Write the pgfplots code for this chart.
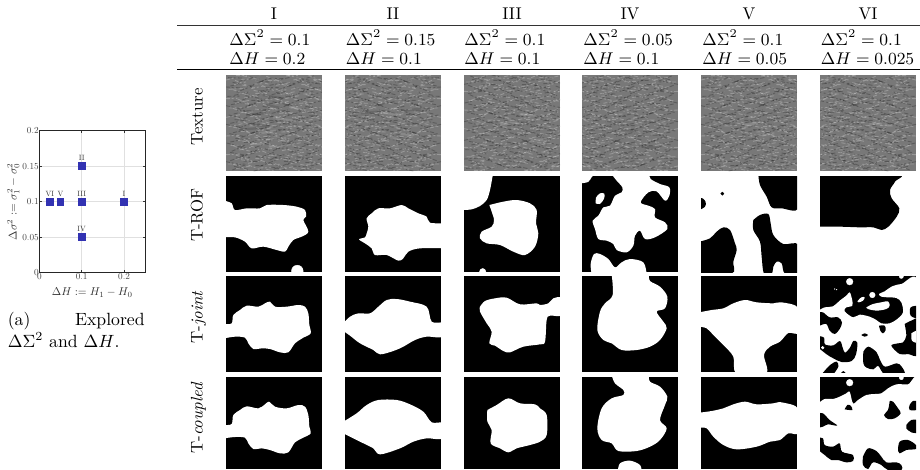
\documentclass[border=0pt]{standalone}
\usepackage{fix-cm}
\usepackage{pgfplots}
\usepackage{pgfplotstable}
\pgfplotsset{compat=1.18}
\definecolor{markblue}{RGB}{50,50,178}
\definecolor{texgray}{gray}{0.47}
\def\pxu{0.56522pt}

\pgfplotstableread[row sep=\\]{
x y u v\\
6 8 42 -4\\ 70 5 30 3\\ 130 10 48 -5\\ 210 7 40 4\\
20 22 28 3\\ 88 19 50 -4\\ 170 24 36 -3\\ 240 20 44 2\\
0 36 50 -3\\ 66 33 26 4\\ 118 38 40 -5\\ 196 35 52 3\\ 262 38 26 -2\\
30 50 44 4\\ 96 48 34 -3\\ 150 52 30 5\\ 220 49 46 -4\\
4 64 36 -5\\ 58 62 48 3\\ 128 66 38 -3\\ 184 63 30 4\\ 240 66 40 -3\\
22 78 30 3\\ 76 76 44 -4\\ 140 80 50 4\\ 214 77 34 -3\\
0 92 42 4\\ 60 90 32 -3\\ 110 94 46 3\\ 176 91 40 -5\\ 238 94 44 3\\
34 106 48 -4\\ 100 104 30 4\\ 150 108 44 -3\\ 216 105 50 4\\
8 120 34 3\\ 62 118 46 -5\\ 128 122 36 3\\ 186 119 42 -3\\ 250 122 30 -2\\
26 134 42 -3\\ 86 132 28 5\\ 130 136 50 -4\\ 200 133 44 3\\
0 148 46 4\\ 64 146 38 -3\\ 120 150 30 3\\ 170 147 48 -5\\ 236 150 40 3\\
40 162 30 -4\\ 90 160 46 3\\ 156 164 36 -4\\ 212 161 50 3\\
10 176 44 3\\ 72 174 34 -3\\ 124 178 48 4\\ 190 175 30 -4\\ 240 178 44 2\\
28 190 48 -4\\ 96 188 30 5\\ 144 192 42 -3\\ 206 189 46 3\\
2 204 34 4\\ 54 202 44 -3\\ 116 206 34 3\\ 168 203 48 -4\\ 234 206 42 2\\
36 218 30 -3\\ 84 216 48 4\\ 150 220 36 -5\\ 204 217 50 3\\
12 232 46 3\\ 76 230 30 -4\\ 124 234 46 3\\ 188 231 34 -3\\ 242 234 42 3\\
30 246 42 -4\\ 90 244 34 3\\ 142 248 50 -3\\ 212 245 44 4\\
0 260 36 3\\ 52 258 48 -4\\ 118 262 38 4\\ 174 259 46 -3\\ 238 262 44 -2\\
24 274 44 4\\ 88 272 30 -4\\ 136 276 44 3\\ 200 273 50 -3\\
}\darkgrain

\pgfplotstableread[row sep=\\]{
x y u v\\
30 2 32 3\\ 100 0 40 -3\\ 180 3 36 3\\ 250 1 34 -2\\
0 15 30 -3\\ 46 13 34 3\\ 126 17 34 4\\ 202 15 30 -3\\ 262 14 26 2\\
24 29 36 -4\\ 84 27 28 3\\ 150 31 42 -3\\ 226 29 36 3\\
8 43 48 3\\ 76 41 36 -4\\ 158 45 30 3\\ 196 43 22 -3\\ 250 44 34 2\\
40 57 30 -3\\ 88 55 34 4\\ 164 59 46 -4\\ 232 57 34 3\\
0 71 34 3\\ 54 69 40 -3\\ 116 73 28 3\\ 178 71 40 -4\\ 246 72 36 -2\\
28 85 42 -4\\ 92 83 30 3\\ 146 87 44 -3\\ 220 85 46 3\\
10 99 38 4\\ 64 97 30 -4\\ 128 101 40 3\\ 194 99 34 -4\\ 250 100 34 2\\
40 113 44 3\\ 110 111 32 -3\\ 160 115 46 4\\ 228 113 34 -3\\
0 127 44 -3\\ 70 125 34 4\\ 142 129 36 -3\\ 198 127 40 3\\ 256 128 30 -2\\
34 141 30 3\\ 86 139 46 -4\\ 154 143 34 3\\ 218 141 44 -3\\
8 155 42 -4\\ 70 153 38 3\\ 130 157 30 -3\\ 186 155 44 4\\ 248 156 36 2\\
44 169 30 4\\ 92 167 44 -3\\ 166 171 40 3\\ 230 169 34 -4\\
0 183 46 3\\ 66 181 26 -4\\ 112 185 46 3\\ 184 183 30 -3\\ 232 184 48 3\\
36 197 36 -3\\ 90 195 44 3\\ 156 199 34 -4\\ 216 197 40 3\\
14 211 34 4\\ 72 209 36 -3\\ 128 213 32 4\\ 182 211 46 -3\\ 248 212 36 2\\
40 225 34 -4\\ 96 223 44 3\\ 168 227 30 -3\\ 218 225 48 3\\
0 239 42 3\\ 62 237 40 -3\\ 128 241 46 4\\ 198 239 36 -3\\ 252 240 32 2\\
28 253 38 -3\\ 88 251 34 4\\ 146 255 40 -3\\ 216 253 44 3\\
6 267 34 4\\ 66 265 40 -3\\ 126 269 36 3\\ 190 267 32 -4\\ 242 268 40 2\\
30 281 46 -3\\ 100 279 34 3\\ 160 283 46 -3\\ 226 281 44 3\\
}\lightgrain

\pgfplotstableread{
x y lab
0.2 0.1 I
0.1 0.15 II
0.1 0.1 III
0.1 0.05 IV
0.05 0.1 V
0.025 0.1 VI
}\explored

\pgfplotsset{
 panel/.style={scale only axis,width=54.26pt,height=54.26pt,
  xmin=0,xmax=288,ymin=0,ymax=288,y dir=reverse,
  ticks=none,axis line style={draw=none},clip=true,
  axis background/.style={fill=black}},
 last/.style={height=52pt,ymax=276},
 tex/.style={axis background/.style={fill=texgray}},
 fine/.style={no marks,opacity=0.24,line width=0.5pt,dash pattern=on 2.3pt off 0.9pt on 1.1pt off 1.4pt},
}
\newenvironment{panel}[3][]{\begin{axis}[panel,#1,at={(#2*\pxu,-#3*\pxu)},anchor=north west]}{\end{axis}}
\newcommand\wb[1]{\addplot[fill=white,draw=none,smooth,tension=0.55] coordinates {#1};}
\newcommand\bb[1]{\addplot[fill=black,draw=none,smooth,tension=0.55] coordinates {#1};}
\newcommand\wdot[3]{\addplot[only marks,mark=*,mark size=#3,mark options={fill=white,draw=white,line width=0.2pt}] coordinates {(#1,#2)};}
\newcommand\bdot[3]{\addplot[only marks,mark=*,mark size=#3,mark options={fill=black,draw=black,line width=0.2pt}] coordinates {(#1,#2)};}
\newcommand\allwhite{\addplot[fill=white,draw=none] coordinates {(-5,-5)(293,-5)(293,293)(-5,293)};}
\newcommand\grain{%
 \addplot[quiver={u=\thisrow{u},v=\thisrow{v}+0.12*\thisrow{u}},fine,black] table[x=x,y=y] {\darkgrain};
 \addplot[quiver={u=\thisrow{u},v=\thisrow{v}-0.3*\thisrow{u}},fine,black] table[x expr=\thisrow{x}+13,y expr=293-\thisrow{y}] {\darkgrain};
 \addplot[quiver={u=\thisrow{u},v=\thisrow{v}-0.12*\thisrow{u}},fine,white] table[x=x,y=y] {\lightgrain};
 \addplot[quiver={u=\thisrow{u},v=\thisrow{v}+0.3*\thisrow{u}},fine,white] table[x expr=\thisrow{x}+21,y expr=283-\thisrow{y}] {\lightgrain};
}
\newcommand\glow[1]{\addplot[quiver={u=\thisrow{u},v=\thisrow{v}},no marks,white,opacity=0.12,line width=1.3pt] table[row sep=\\] {x y u v\\#1};}
\newcommand\dusk[1]{\addplot[quiver={u=\thisrow{u},v=\thisrow{v}},no marks,black,opacity=0.12,line width=1.3pt] table[row sep=\\] {x y u v\\#1};}

\begin{document}
\begin{tikzpicture}
\path[use as bounding box] (0,0) rectangle (920*\pxu,-469*\pxu);

% explored parameters
\begin{axis}[scale only axis,width=59.9pt,height=80.3pt,
 at={(39.3*\pxu,-272.7*\pxu)},anchor=south west,
 xmin=0,xmax=0.25,ymin=0,ymax=0.2,
 xtick={0,0.1,0.2},ytick={0,0.05,0.1,0.15,0.2},
 yticklabel style={/pgf/number format/fixed,/pgf/number format/precision=3},
 xticklabel style={/pgf/number format/fixed},
 ticklabel style={scale=0.52,text=black!75},
 tick align=inside,major tick length=1.5pt,tick style={black!80,line width=0.3pt},
 grid=major,grid style={black!12,line width=0.6pt},
 axis line style={black!85,line width=0.6pt},
 xticklabel shift=-1.5pt,yticklabel shift=-1.5pt,
 xlabel={$\Delta H := H_1 - H_0$},
 ylabel={$\Delta\sigma^2 := \sigma_1^2 - \sigma_0^2$},
 label style={scale=0.64,text=black!80},
 xlabel style={at={(axis description cs:0.5,-0.14)},anchor=center},
 ylabel style={at={(axis description cs:-0.245,0.5)},anchor=center},
 clip=false]
\addplot[only marks,mark=square*,mark size=1.9pt,mark options={draw=markblue,fill=markblue,line width=0pt},
 point meta=explicit symbolic,nodes near coords,
 nodes near coords style={scale=0.43,text=black!80,anchor=south,inner sep=0pt,yshift=7pt}]
 table[x=x,y=y,meta=lab] {\explored};
\end{axis}
\node[anchor=base west,inner sep=0pt] at (7.5*\pxu,-325*\pxu) {(a)};
\node[anchor=base east,inner sep=0pt] at (145*\pxu,-325*\pxu) {Explored};
\node[anchor=base west,inner sep=0pt] at (7.5*\pxu,-347*\pxu) {$\Delta\Sigma^2$ and $\Delta H$.};

% table head
\draw[black!80,line width=0.5pt] (177*\pxu,-25.3*\pxu) -- (920*\pxu,-25.3*\pxu);
\draw[black,line width=0.7pt] (177*\pxu,-69.3*\pxu) -- (920*\pxu,-69.3*\pxu);
\foreach \cx/\nm in {274/I,393/II,512/III,630/IV,749/V,868/VI}
 \node[anchor=base,inner sep=0pt,font=\fontsize{9.6}{11}\selectfont] at (\cx*\pxu,-19*\pxu) {\nm};
\foreach \lx/\ds/\dh in {229/0.1/0.2,345.5/0.15/0.1,464/0.1/0.1,583/0.05/0.1,702/0.1/0.05,820.5/0.1/0.025}{
 \node[anchor=base west,inner sep=0pt,font=\fontsize{9.6}{11}\selectfont] at (\lx*\pxu,-45*\pxu) {$\Delta\Sigma^2=\ds$};
 \node[anchor=base west,inner sep=0pt,font=\fontsize{9.6}{11}\selectfont] at (\lx*\pxu,-64*\pxu) {$\Delta H=\dh$};
}
\foreach \yc/\nm in {117/Texture,215/T-ROF,317/T-\textit{joint},418/T-\textit{coupled}}
 \node[rotate=90,anchor=base,inner sep=0pt,font=\fontsize{9.5}{11}\selectfont] at (202.7*\pxu,-\yc*\pxu) {\nm};

% texture row
\begin{panel}[tex]{226}{75}\grain
 \glow{100 175 50 -8\\ 120 195 60 -6\\ 150 130 60 8\\ 190 95 50 12\\ 75 205 40 3\\ 130 215 50 -2\\}
 \dusk{60 120 60 -6\\ 110 60 60 10\\ 40 165 50 -5\\ 80 150 50 4\\ 120 90 40 8\\}
\end{panel}
\begin{panel}[tex,x dir=reverse]{345}{75}\grain
 \glow{120 120 60 -8\\ 130 190 50 3\\ 80 180 40 -3\\}
 \dusk{60 100 50 8\\ 190 110 50 5\\}
\end{panel}
\begin{panel}[tex,y dir=normal]{464}{75}\grain
 \glow{110 140 50 5\\ 170 170 50 -4\\ 200 90 50 6\\}
\end{panel}
\begin{panel}[tex,x dir=reverse,y dir=normal]{582}{75}\grain
 \dusk{120 120 50 4\\ 60 70 50 3\\}
\end{panel}
\begin{panel}[tex]{701}{75}\grain
 \glow{130 150 60 -6\\ 170 180 50 -5\\}
\end{panel}
\begin{panel}[tex,x dir=reverse]{820}{75}\grain
 \glow{80 150 60 -5\\ 130 190 50 3\\}
\end{panel}

% T-ROF row
\begin{panel}{226}{176}
 \wb{(-5,74)(17,82)(27,102)(62,97)(102,97)(122,87)(172,87)(212,92)(237,102)(240,122)(232,132)(247,167)(227,182)(202,192)(187,212)(177,227)(152,222)(112,212)(77,217)(57,197)(27,184)(-5,184)}
 \wdot{214}{285}{3.3pt}
\end{panel}
\begin{panel}{345}{176}
 \wb{(300,142)(255,140)(245,122)(220,112)(190,97)(170,87)(135,97)(100,97)(80,112)(65,127)(70,152)(65,172)(60,184)(42,190)(60,202)(80,217)(90,237)(125,237)(160,254)(175,247)(190,227)(225,217)(300,217)}
\end{panel}
\begin{panel}{464}{176}
 \wb{(-5,-5)(88,-5)(86,0)(78,42)(68,72)(48,90)(23,100)(-5,102)}
 \wb{(76,87)(118,77)(158,72)(198,82)(218,102)(216,142)(223,172)(213,212)(183,237)(148,227)(108,207)(68,202)(48,187)(53,167)(83,152)(90,132)(83,107)(76,87)}
 \wdot{56}{287}{1.8pt}
\end{panel}
\begin{panel}{582}{176}
 \wb{(-5,-5)(32,-5)(28,5)(18,18)(-5,22)}
 \wb{(89,-5)(104,14)(121,34)(119,49)(99,59)(84,89)(64,94)(49,119)(32,134)(39,159)(49,189)(74,194)(94,204)(104,222)(134,229)(154,209)(159,179)(174,164)(189,189)(219,184)(256,159)(249,139)(219,124)(219,99)(199,89)(176,79)(199,49)(224,46)(249,74)(262,59)(262,34)(234,24)(206,9)(202,-5)}
 \wb{(41,82)(42,65)(54,52)(67,53)(66,68)(54,84)(41,82)}
 \wb{(29,295)(26,264)(36,234)(54,234)(79,249)(99,274)(119,259)(144,249)(184,259)(194,295)}
\end{panel}
\begin{panel}{701}{176}
 \allwhite
 \bb{(172,-5)(177,27)(197,62)(212,94)(242,97)(293,97)(293,-5)}
 \bb{(-5,197)(27,187)(47,167)(67,154)(87,162)(102,202)(107,222)(97,257)(92,293)(-5,293)}
 \bb{(157,132)(177,117)(202,114)(209,142)(217,177)(247,204)(293,207)(293,293)(252,293)(242,262)(227,257)(217,272)(212,293)(189,293)(182,242)(177,197)(157,162)(157,132)}
 \bb{(-5,67)(5,67)(14,78)(12,92)(-5,102)}
 \bdot{64}{53}{0.9pt}
\end{panel}
\begin{panel}{820}{176}
 \allwhite
 \bb{(-5,-5)(231,-5)(225,17)(210,42)(215,67)(238,97)(230,122)(205,152)(185,162)(160,154)(120,154)(60,152)(-5,152)}
\end{panel}

% T-joint row
\begin{panel}{226}{276}
 \wb{(-5,144)(17,142)(22,117)(42,102)(62,89)(97,92)(117,82)(132,77)(147,92)(182,92)(217,87)(237,92)(247,112)(250,147)(254,172)(232,185)(207,202)(187,229)(162,229)(132,219)(107,217)(82,219)(67,202)(57,185)(27,182)(-5,187)}
\end{panel}
\begin{panel}{345}{276}
 \wb{(-5,142)(15,122)(40,112)(75,112)(100,92)(125,72)(155,69)(195,77)(245,92)(260,137)(293,142)(293,182)(245,182)(210,192)(175,212)(145,225)(105,235)(85,222)(45,202)(15,179)(-5,165)}
\end{panel}
\begin{panel}{464}{276}
 \wb{(48,92)(63,75)(93,67)(128,65)(168,85)(218,82)(228,87)(253,82)(268,67)(293,67)(293,117)(258,119)(248,132)(243,197)(228,205)(178,212)(138,229)(118,225)(93,209)(76,202)(83,167)(68,142)(48,107)(48,92)}
\end{panel}
\begin{panel}{582}{276}
 \wb{(89,-5)(92,57)(69,82)(54,107)(46,162)(64,192)(89,202)(119,222)(164,222)(204,212)(234,192)(254,157)(244,137)(224,107)(249,97)(256,62)(234,32)(204,15)(201,-5)}
\end{panel}
\begin{panel}{701}{276}
 \wb{(-5,109)(32,102)(67,97)(97,82)(132,72)(167,79)(217,82)(242,79)(293,97)(293,169)(262,171)(237,197)(207,212)(189,237)(195,293)(107,293)(97,242)(67,207)(37,177)(17,157)(-5,152)}
\end{panel}
\begin{panel}{820}{276}
 \wb{(-5,104)(14,94)(39,91)(59,74)(79,59)(89,49)(96,69)(97,89)(79,94)(74,106)(99,124)(119,116)(149,122)(169,132)(184,142)(209,142)(232,129)(249,109)(244,79)(229,66)(204,64)(184,62)(177,54)(194,46)(216,31)(244,24)(295,19)(295,295)(-5,295)}
 \bb{(295,89)(272,94)(272,119)(295,129)}
 \wb{(139,94)(159,84)(184,79)(204,76)(209,89)(199,99)(169,104)(144,99)(139,94)}
 \wb{(112,76)(124,64)(134,64)(129,74)(116,79)(112,76)}
 \wdot{157}{57}{1.6pt}
 \wdot{89}{17}{1.9pt}
 \wdot{244}{1}{1.2pt}
 \wdot{44}{39}{0.2pt}
 \wdot{50}{41}{0.2pt}
 \bb{(-5,109)(9,109)(29,124)(54,124)(66,139)(59,159)(44,174)(29,164)(19,144)(-1,149)(-5,154)}
 \bb{(124,177)(134,172)(144,177)(134,182)(124,177)}
 \bb{(177,149)(194,149)(197,162)(189,172)(181,164)(177,149)}
 \bb{(254,144)(274,134)(295,134)(295,234)(264,234)(239,234)(214,209)(234,202)(249,199)(259,179)(254,144)}
 \wb{(274,172)(295,164)(295,199)(276,194)(274,172)}
 \bb{(-5,180)(12,185)(15,205)(40,208)(60,195)(68,215)(75,230)(90,215)(100,195)(112,200)(108,235)(95,255)(65,258)(40,247)(20,235)(-5,215)}
 \wdot{8}{215}{0.8pt}
 \bb{(130,227)(145,212)(170,229)(180,252)(195,272)(230,262)(245,272)(252,295)(195,295)(175,270)(160,280)(140,275)(130,262)(130,227)}
 \bb{(5,295)(30,267)(50,257)(55,272)(40,295)}
 \bb{(60,295)(70,285)(80,295)}
\end{panel}

% T-coupled row, cut by the page
\begin{panel}[last]{226}{377}
 \wb{(-5,144)(17,141)(22,114)(42,99)(62,88)(97,94)(117,82)(129,74)(147,89)(182,94)(217,84)(237,89)(247,114)(250,149)(254,169)(232,182)(207,196)(187,226)(162,229)(132,219)(107,214)(82,216)(67,199)(57,182)(27,180)(-5,184)}
\end{panel}
\begin{panel}[last]{345}{377}
 \wb{(-5,134)(35,109)(65,84)(100,69)(155,69)(195,82)(235,104)(260,136)(293,139)(293,184)(245,184)(205,194)(165,214)(105,232)(85,214)(45,194)(-5,169)}
\end{panel}
\begin{panel}[last]{464}{377}
 \wb{(70,99)(98,84)(133,64)(168,79)(213,82)(228,94)(248,114)(248,174)(228,194)(198,204)(158,214)(133,226)(108,214)(80,199)(83,159)(70,134)(70,99)}
\end{panel}
\begin{panel}[last]{582}{377}
 \wb{(89,-5)(99,19)(124,39)(124,54)(89,64)(59,94)(46,154)(59,189)(89,199)(109,222)(164,222)(204,209)(234,189)(254,154)(234,129)(249,84)(256,59)(234,29)(204,14)(201,-5)}
 \wb{(107,285)(114,259)(144,251)(174,264)(179,285)}
\end{panel}
\begin{panel}[last]{701}{377}
 \wb{(-5,107)(32,102)(67,94)(97,82)(132,74)(167,82)(217,79)(242,76)(293,96)(293,167)(262,169)(237,189)(207,194)(167,209)(107,217)(67,204)(37,179)(17,154)(-5,152)}
\end{panel}
\begin{panel}[last]{820}{377}
 \wb{(-5,79)(14,66)(39,66)(59,59)(79,49)(89,44)(99,79)(114,69)(139,54)(164,51)(184,49)(204,34)(229,22)(264,22)(295,14)(295,295)(-5,295)}
 \wdot{89}{17}{1.9pt}
 \wdot{244}{2}{1.2pt}
 \bb{(74,97)(82,84)(92,86)(97,99)(74,97)}
 \bb{(209,72)(219,74)(234,94)(242,109)(224,124)(204,126)(192,114)(204,99)(209,72)}
 \bb{(295,72)(279,72)(269,84)(269,99)(295,99)}
 \bb{(295,129)(274,129)(259,144)(259,154)(274,166)(295,169)}
 \bb{(-5,109)(9,109)(29,129)(52,146)(24,142)(9,149)(-5,152)}
 \bb{(-5,182)(9,184)(14,204)(39,209)(59,199)(66,224)(99,234)(99,252)(79,256)(54,249)(34,249)(14,234)(-5,219)}
 \bb{(234,219)(239,194)(264,189)(288,204)(288,216)(259,219)(239,229)(234,219)}
 \bb{(129,239)(144,214)(169,222)(184,239)(199,256)(229,256)(244,264)(244,280)(204,279)(184,264)(159,256)(144,276)(129,264)(129,239)}
\end{panel}
\end{tikzpicture}
\end{document}
